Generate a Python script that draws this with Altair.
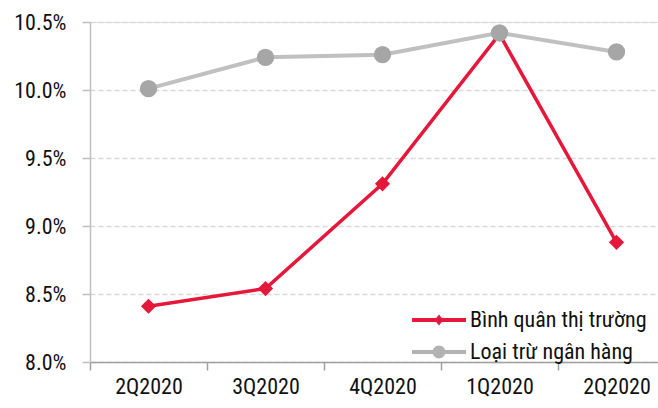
import json
import altair as alt
import pandas as pd

quarters = ["2Q2020", "3Q2020", "4Q2020", "1Q2020", "2Q2020"]
market_avg = [8.41, 8.54, 9.31, 10.41, 8.88]
ex_banks = [10.01, 10.24, 10.26, 10.42, 10.28]
series_names = ["Bình quân thị trường", "Loại trừ ngân hàng"]
y_ticks = [8.0, 8.5, 9.0, 9.5, 10.0, 10.5]

RED = "#E5173B"
GRAY_LINE = "#C0C0C0"
GRAY_DOT = "#A6A6A6"
FONT = "Roboto Condensed, Liberation Sans Narrow, Arial Narrow, sans-serif"
FS = 22
FW = 400
TXT = "#111111"

rows = []
for i, q in enumerate(quarters):
    rows.append({"idx": i, "quarter": q, "series": series_names[0], "value": market_avg[i] / 100})
    rows.append({"idx": i, "quarter": q, "series": series_names[1], "value": ex_banks[i] / 100})
df = pd.DataFrame(rows)

label_expr = json.dumps(quarters) + "[datum.value]"

x = alt.X(
    "idx:O",
    scale=alt.Scale(type="band", range=[0, 585], paddingInner=0, paddingOuter=0),
    axis=alt.Axis(
        title=None, labelExpr=label_expr, tickBand="extent", labelAngle=0,
        domainColor="#A0A0A0", domainWidth=1.5, tickColor="#A0A0A0", tickWidth=1.5,
        tickSize=8, labelPadding=6, labelFontSize=FS, labelFont=FONT, labelColor=TXT,
        labelFontWeight=FW, grid=False,
    ),
)
y = alt.Y(
    "value:Q",
    scale=alt.Scale(domain=[0.08, 0.105], nice=False, zero=False),
    axis=alt.Axis(
        title=None, values=[v / 100 for v in y_ticks], format=".1%",
        domainColor="#BFBFBF", domainWidth=1.5, tickColor="#BFBFBF", tickWidth=1.5,
        tickSize=8, labelPadding=16, labelFontSize=FS, labelFont=FONT, labelColor=TXT,
        labelFontWeight=FW,
        grid=True, gridColor="#D9D9D9", gridDash=[5, 3], gridWidth=1.5,
    ),
)

base = alt.Chart(df)

red_line = base.transform_filter(alt.datum.series == series_names[0]).mark_line(
    color=RED, strokeWidth=3.5).encode(x=x, y=y)
red_pts = base.transform_filter(alt.datum.series == series_names[0]).mark_point(
    shape="diamond", filled=True, opacity=1, color=RED, size=230).encode(x=x, y=y)
gray_line = base.transform_filter(alt.datum.series == series_names[1]).mark_line(
    color=GRAY_LINE, strokeWidth=4).encode(x=x, y=y)
gray_pts = base.transform_filter(alt.datum.series == series_names[1]).mark_point(
    shape="circle", filled=True, opacity=1, color=GRAY_DOT, size=300).encode(x=x, y=y)

# legend symbols: unit = 15 px (symbolSize 900)
line_rect = "M-1.8,-0.13L1.8,-0.13L1.8,0.13L-1.8,0.13Z"
diamond = "M0,-0.36L0.29,0L0,0.36L-0.29,0Z"
circle = "M-0.43,0A0.43,0.43,0,1,1,0.43,0A0.43,0.43,0,1,1,-0.43,0Z"

leg = dict(title=None, orient="none", legendX=334, legendY=283,
           symbolSize=900, labelFontSize=FS, labelFont=FONT, labelFontWeight=FW,
           labelColor=TXT, labelOffset=16, rowPadding=6,
           symbolStrokeWidth=0, labelLimit=400)

legend_layer = base.transform_filter("false").mark_point(filled=True, opacity=1).encode(
    x=x, y=y,
    color=alt.Color("series:N", scale=alt.Scale(domain=series_names, range=[RED, "#B3B3B3"]),
                    legend=alt.Legend(**leg)),
    shape=alt.Shape("series:N", scale=alt.Scale(domain=series_names,
                                                range=[line_rect + diamond, line_rect + circle]),
                    legend=alt.Legend(**leg)),
)

chart = alt.layer(red_line, red_pts, gray_line, gray_pts, legend_layer).properties(
    width=568, height=340,
    autosize=alt.AutoSizeParams(type="none"),
    padding={"left": 90, "top": 22, "right": 0, "bottom": 46},
).configure_view(stroke=None).configure(background="white")

chart.save("out.html", embed_options={"renderer": "svg", "actions": False})
